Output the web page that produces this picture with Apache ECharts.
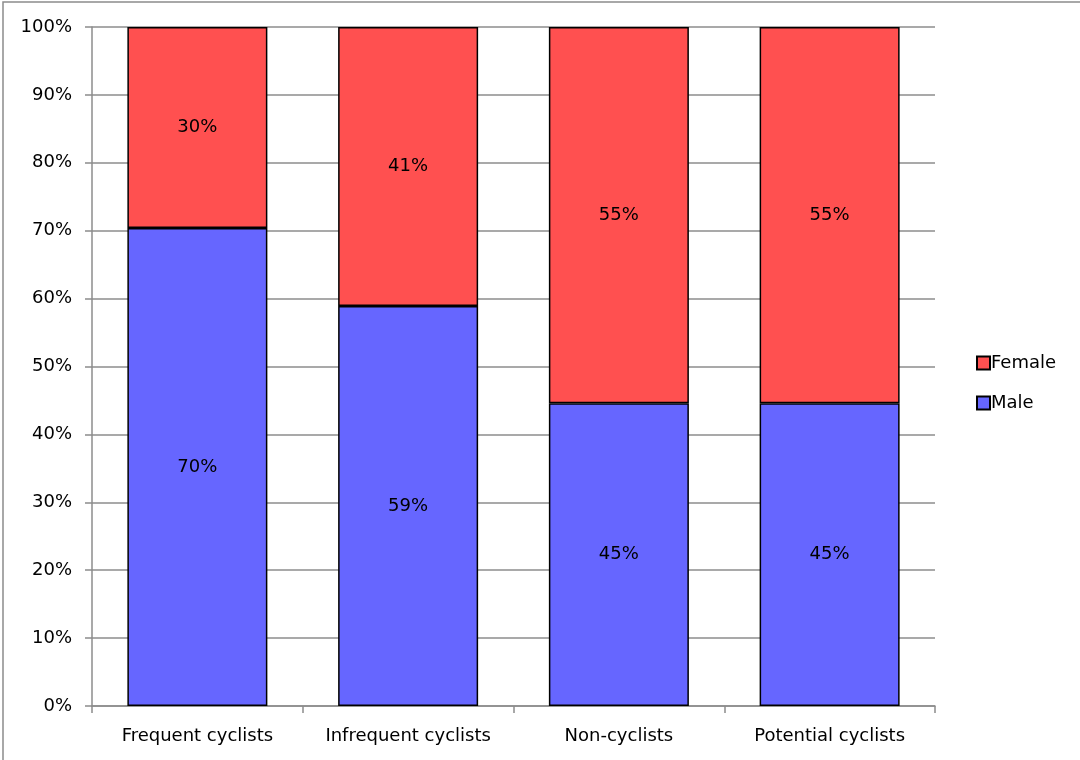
<!DOCTYPE html>
<html><head><meta charset="utf-8">
<script src="https://cdn.jsdelivr.net/npm/echarts@6/dist/echarts.min.js"></script>
<style>html,body{margin:0;padding:0;background:#fff}#c{width:1080px;height:760px}</style>
</head><body><div id="c"></div>
<script>
const categories = ['Frequent cyclists', 'Infrequent cyclists', 'Non-cyclists', 'Potential cyclists'];
const maleValues = [70.4, 58.9, 44.6, 44.6];
const femaleValues = [29.6, 41.1, 55.4, 55.4];
const yTicks = [0, 10, 20, 30, 40, 50, 60, 70, 80, 90, 100];

const font = '"DejaVu Sans", sans-serif';
const chart = echarts.init(document.getElementById('c'));
const lbl = {
  show: true, position: 'inside', color: '#000', fontFamily: font, fontSize: 18,
  formatter: p => Math.round(p.value) + '%'
};
chart.setOption({
  animation: false,
  graphic: [{type: 'rect', shape: {x: 3, y: 2, width: 1200, height: 900}, style: {fill: 'none', stroke: '#8c8c8c', lineWidth: 1.5}, z: -1}],
  grid: {left: 92, right: 145, top: 27, bottom: 54},
  legend: {
    orient: 'vertical', left: 971, top: 349, itemGap: 22, itemWidth: 13, itemHeight: 13,
    data: ['Female', 'Male'], icon: 'rect',
    textStyle: {fontFamily: font, fontSize: 18, color: '#000', padding: [0, 0, 0, -4]}
  },
  xAxis: {
    type: 'category', data: categories,
    axisLine: {lineStyle: {color: '#8c8c8c', width: 1.5}},
    axisTick: {show: true, interval: 0, length: 7, lineStyle: {color: '#8c8c8c', width: 1.5}},
    axisLabel: {interval: 0, color: '#000', fontFamily: font, fontSize: 18, margin: 21}
  },
  yAxis: {
    type: 'value', min: 0, max: 100, interval: 10,
    axisLine: {show: true, lineStyle: {color: '#8c8c8c', width: 1.5}},
    axisTick: {show: true, length: 7, lineStyle: {color: '#8c8c8c', width: 1.5}},
    splitLine: {lineStyle: {color: '#8c8c8c', width: 1.5}},
    axisLabel: {color: '#000', fontFamily: font, fontSize: 18, margin: 20,
      formatter: v => yTicks.includes(v) ? v + '%' : ''}
  },
  series: [
    {name: 'Male', type: 'bar', stack: 's', data: maleValues, barWidth: 140,
     itemStyle: {color: '#6666FF', borderColor: '#000', borderWidth: 1.5}, label: lbl},
    {name: 'Female', type: 'bar', stack: 's', data: femaleValues, barWidth: 140,
     itemStyle: {color: '#FF5050', borderColor: '#000', borderWidth: 1.5}, label: lbl}
  ]
});
</script></body></html>
